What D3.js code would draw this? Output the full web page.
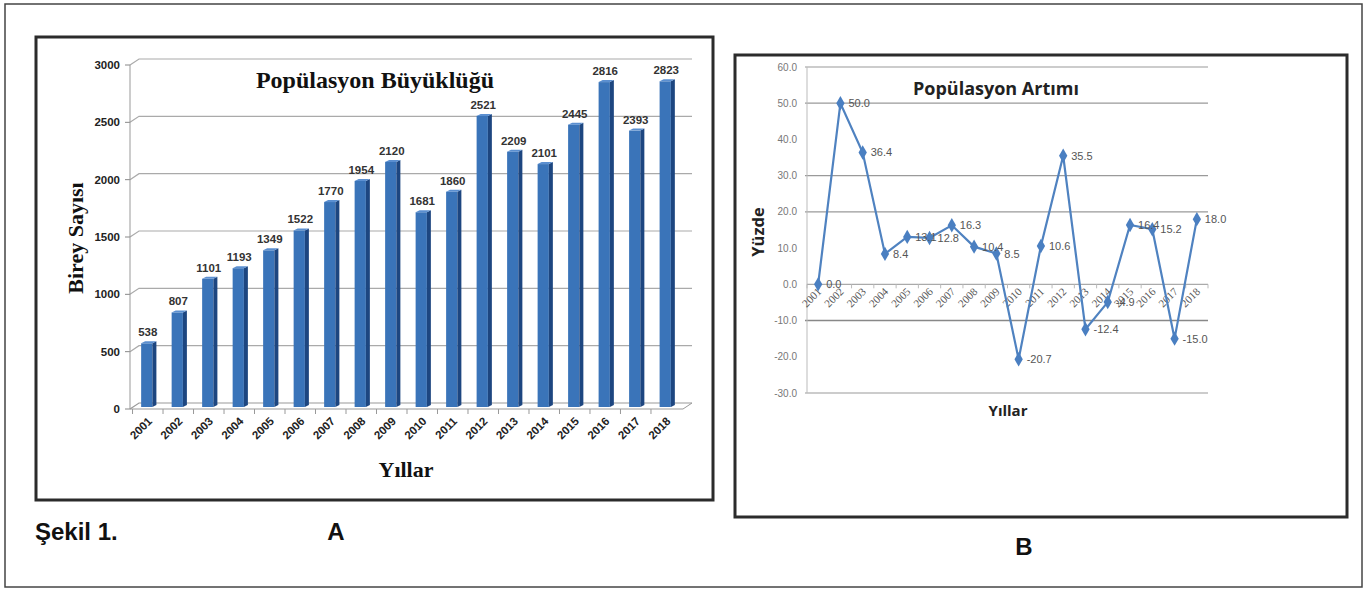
<!DOCTYPE html>
<html>
<head>
<meta charset="utf-8">
<script src="https://cdn.jsdelivr.net/npm/d3@7"></script>
<style>
  body { margin: 0; background: #fff; }
</style>
</head>
<body>
<script>
// data
var years = ["2001","2002","2003","2004","2005","2006","2007","2008","2009",
             "2010","2011","2012","2013","2014","2015","2016","2017","2018"];
var bireySayisi = [538, 807, 1101, 1193, 1349, 1522, 1770, 1954, 2120,
                   1681, 1860, 2521, 2209, 2101, 2445, 2816, 2393, 2823];
var artim = [0.0, 50.0, 36.4, 8.4, 13.1, 12.8, 16.3, 10.4, 8.5,
             -20.7, 10.6, 35.5, -12.4, -4.9, 16.4, 15.2, -15.0, 18.0];
var artimLabels = ["0.0","50.0","36.4","8.4","13.1","12.8","16.3","10.4","8.5",
                   "-20.7","10.6","35.5","-12.4","-4.9","16.4","15.2","-15.0","18.0"];
var ticksA = [0, 500, 1000, 1500, 2000, 2500, 3000];
var ticksB = [60, 50, 40, 30, 20, 10, 0, -10, -20, -30];
var gridB = [60, 50, 30, 20, -10, -30]; // lines that are visible in the scan

var svg = d3.select("body").append("svg")
  .attr("width", 1368)
  .attr("height", 592);

// outer frame
svg.append("rect").attr("x", 5).attr("y", 4).attr("width", 1357).attr("height", 583)
  .attr("fill", "none").attr("stroke", "#444").attr("stroke-width", 1.5);

// ---------- panel A ----------
svg.append("rect").attr("x", 36).attr("y", 37).attr("width", 677).attr("height", 463)
  .attr("fill", "#fff").attr("stroke", "#2b2b2b").attr("stroke-width", 3);

var xA = d3.scaleBand().domain(years).range([131, 683]).paddingInner(0.5).paddingOuter(0.3);
var yA = d3.scaleLinear().domain([0, 3000]).range([409, 65]);
var depth = 9, rise = 6;

var gA = svg.append("g");
// grid lines with 3d slant
ticksA.forEach(function(t) {
  var y = yA(t);
  gA.append("path")
    .attr("d", "M130," + y + " L" + (130 + depth) + "," + (y - rise) + " L692," + (y - rise))
    .attr("fill", "none").attr("stroke", t === 0 ? "#999" : "#aaa").attr("stroke-width", 1.2);
  gA.append("line").attr("x1", 125).attr("x2", 130).attr("y1", y).attr("y2", y)
    .attr("stroke", "#888");
  gA.append("text").attr("x", 120).attr("y", y + 4).attr("text-anchor", "end")
    .attr("font-family", "Liberation Sans, Arial").attr("font-weight", "bold")
    .attr("font-size", 11.5).attr("fill", "#222").text(t);
});
// axis lines
gA.append("line").attr("x1", 130).attr("x2", 130).attr("y1", yA(3000)).attr("y2", yA(0))
  .attr("stroke", "#999");
gA.append("line").attr("x1", 130).attr("x2", 683).attr("y1", yA(0)).attr("y2", yA(0))
  .attr("stroke", "#999");
gA.append("line").attr("x1", 683).attr("x2", 692).attr("y1", yA(0)).attr("y2", yA(0) - rise)
  .attr("stroke", "#999");
// category ticks
var stepA = xA.step();
years.forEach(function(d, i) {
  var x = xA(d) - (stepA - xA.bandwidth()) / 2;
  gA.append("line").attr("x1", x).attr("x2", x).attr("y1", yA(0)).attr("y2", yA(0) + 5)
    .attr("stroke", "#999");
});

// bars
var bars = gA.selectAll("g.bar").data(bireySayisi).enter().append("g").attr("class", "bar");
bars.append("rect")
  .attr("x", function(d, i) { return xA(years[i]) + 1; })
  .attr("y", function(d) { return yA(d) - 4; })
  .attr("width", xA.bandwidth() - 4)
  .attr("height", function(d) { return yA(0) - yA(d) + 2; })
  .attr("fill", "#3a74b9");
bars.append("path")
  .attr("d", function(d, i) {
    var x0 = xA(years[i]) + xA.bandwidth() - 3, y0 = yA(d) - 4, yb = yA(0) - 2;
    return "M" + x0 + "," + y0 + " L" + (x0 + 4) + "," + (y0 - 2) + " L" + (x0 + 4) + "," + (yb - 2) +
      " L" + x0 + "," + yb + "Z";
  })
  .attr("fill", "#1d4680");
bars.append("path")
  .attr("d", function(d, i) {
    var x0 = xA(years[i]) + 1, x1 = xA(years[i]) + xA.bandwidth() - 3, y0 = yA(d) - 4;
    return "M" + x0 + "," + y0 + " L" + (x0 + 4) + "," + (y0 - 2) + " L" + (x1 + 4) + "," + (y0 - 2) +
      " L" + x1 + "," + y0 + "Z";
  })
  .attr("fill", "#5b8fd0");
bars.append("text")
  .attr("x", function(d, i) { return xA(years[i]) + xA.bandwidth() / 2; })
  .attr("y", function(d) { return yA(d) - 11; })
  .attr("text-anchor", "middle")
  .attr("font-family", "Liberation Sans, Arial").attr("font-weight", "bold")
  .attr("font-size", 11.5).attr("fill", "#333")
  .text(function(d) { return d; });

// x labels
gA.selectAll("text.xl").data(years).enter().append("text").attr("class", "xl")
  .attr("transform", function(d) {
    return "translate(" + (xA(d) + xA.bandwidth() / 2 + 5) + "," + (yA(0) + 13) + ") rotate(-45)";
  })
  .attr("text-anchor", "end")
  .attr("font-family", "Liberation Sans, Arial").attr("font-weight", "bold")
  .attr("font-size", 11.5).attr("fill", "#222")
  .text(function(d) { return d; });

gA.append("text").attr("x", 375).attr("y", 88).attr("text-anchor", "middle")
  .attr("font-family", "Liberation Serif, Times New Roman").attr("font-weight", "bold")
  .attr("font-size", 24).attr("fill", "#111").text("Popülasyon Büyüklüğü");
gA.append("text").attr("transform", "translate(83,238) rotate(-90)").attr("text-anchor", "middle")
  .attr("font-family", "Liberation Serif, Times New Roman").attr("font-weight", "bold")
  .attr("font-size", 22).attr("fill", "#111").text("Birey Sayısı");
gA.append("text").attr("x", 406).attr("y", 477).attr("text-anchor", "middle")
  .attr("font-family", "Liberation Serif, Times New Roman").attr("font-weight", "bold")
  .attr("font-size", 22).attr("fill", "#111").text("Yıllar");

// ---------- panel B ----------
svg.append("rect").attr("x", 735).attr("y", 55).attr("width", 612).attr("height", 462)
  .attr("fill", "#fff").attr("stroke", "#2b2b2b").attr("stroke-width", 3);

var xB = d3.scaleBand().domain(years).range([807, 1208]);
var yB = d3.scaleLinear().domain([-30, 60]).range([393, 67]);
var gB = svg.append("g");

gridB.forEach(function(t) {
  gB.append("line").attr("x1", 805).attr("x2", 1208).attr("y1", yB(t)).attr("y2", yB(t))
    .attr("stroke", t === -10 ? "#888" : "#9a9a9a").attr("stroke-width", t === -10 ? 1.6 : 1.2);
});
gB.append("line").attr("x1", 807).attr("x2", 807).attr("y1", yB(60)).attr("y2", yB(-30))
  .attr("stroke", "#bbb");
gB.append("line").attr("x1", 807).attr("x2", 1208).attr("y1", yB(0)).attr("y2", yB(0))
  .attr("stroke", "#aaa").attr("stroke-width", 1.2);
years.forEach(function(d) {
  gB.append("line").attr("x1", xB(d)).attr("x2", xB(d)).attr("y1", yB(0)).attr("y2", yB(0) + 4)
    .attr("stroke", "#bbb");
});
gB.append("line").attr("x1", 1208).attr("x2", 1208).attr("y1", yB(0)).attr("y2", yB(0) + 4)
  .attr("stroke", "#bbb");

ticksB.forEach(function(t) {
  gB.append("text").attr("x", 797).attr("y", yB(t) + 3.5).attr("text-anchor", "end")
    .attr("font-family", "Liberation Sans, Arial").attr("font-size", 10).attr("fill", "#777")
    .text(t.toFixed(1));
});

gB.selectAll("text.xl").data(years).enter().append("text").attr("class", "xl")
  .attr("transform", function(d) {
    return "translate(" + (xB(d) + xB.bandwidth() / 2 + 4) + "," + (yB(0) + 8) + ") rotate(-45)";
  })
  .attr("text-anchor", "end")
  .attr("font-family", "Liberation Serif, Times New Roman")
  .attr("font-size", 11).attr("fill", "#555")
  .text(function(d) { return d; });

var line = d3.line()
  .x(function(d, i) { return xB(years[i]) + xB.bandwidth() / 2; })
  .y(function(d) { return yB(d); });
gB.append("path").datum(artim).attr("d", line)
  .attr("fill", "none").attr("stroke", "#4f82c0").attr("stroke-width", 2.2);

gB.selectAll("path.mk").data(artim).enter().append("path").attr("class", "mk")
  .attr("transform", function(d, i) {
    return "translate(" + (xB(years[i]) + xB.bandwidth() / 2) + "," + yB(d) + ")";
  })
  .attr("d", d3.symbol().type(d3.symbolDiamond).size(60))
  .attr("fill", "#4a7fc1");

gB.selectAll("text.dl").data(artim).enter().append("text").attr("class", "dl")
  .attr("x", function(d, i) { return xB(years[i]) + xB.bandwidth() / 2 + 8; })
  .attr("y", function(d) { return yB(d) + 4; })
  .attr("font-family", "Liberation Sans, Arial").attr("font-size", 11).attr("fill", "#555")
  .text(function(d, i) { return artimLabels[i]; });

gB.append("text").attr("x", 913).attr("y", 95)
  .attr("font-family", "Open Sans, Liberation Sans").attr("font-weight", "bold")
  .attr("font-size", 18).attr("fill", "#222").text("Popülasyon Artımı");
gB.append("text").attr("transform", "translate(764,232) rotate(-90)").attr("text-anchor", "middle")
  .attr("font-family", "Open Sans, Liberation Sans").attr("font-weight", "bold")
  .attr("font-size", 16.5).attr("fill", "#222").text("Yüzde");
gB.append("text").attr("x", 1008).attr("y", 416).attr("text-anchor", "middle")
  .attr("font-family", "Open Sans, Liberation Sans").attr("font-weight", "bold")
  .attr("font-size", 15).attr("fill", "#222").text("Yıllar");

// captions
svg.append("text").attr("x", 35).attr("y", 540)
  .attr("font-family", "Liberation Sans, Arial").attr("font-weight", "bold")
  .attr("font-size", 24).attr("fill", "#111").text("Şekil 1.");
svg.append("text").attr("x", 336).attr("y", 540).attr("text-anchor", "middle")
  .attr("font-family", "Liberation Sans, Arial").attr("font-weight", "bold")
  .attr("font-size", 24).attr("fill", "#111").text("A");
svg.append("text").attr("x", 1024).attr("y", 555).attr("text-anchor", "middle")
  .attr("font-family", "Liberation Sans, Arial").attr("font-weight", "bold")
  .attr("font-size", 24).attr("fill", "#111").text("B");
</script>
</body>
</html>
